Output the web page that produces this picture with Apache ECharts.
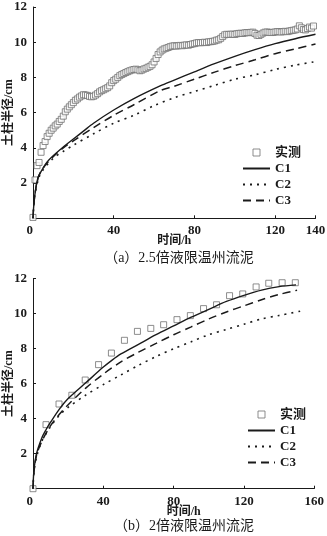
<!DOCTYPE html>
<html><head><meta charset="utf-8">
<script src="https://cdn.jsdelivr.net/npm/echarts@6/dist/echarts.min.js"></script>
<style>html,body{margin:0;padding:0;background:#fff}#c{width:327px;height:536px}</style>
</head><body><div id="c"></div>
<script>
// ---- axis settings ----
const yMax = 12, yStep = 2;
const xMaxA = 140, xMaxB = 160, xStep = 40;
const seriesNames = ['实测', 'C1', 'C2', 'C3'];
const yAxisName = '土柱半径/cm';
const xAxisName = '时间/h';
const captionA = '（a）2.5倍液限温州流泥';
const captionB = '（b）2倍液限温州流泥';

// ---- (a) 2.5x liquid limit ----
const measuredA = [[0,0.05],[1,2.18],[2,2.99],[3,3.17],[4,3.75],[5,4.13],[6,4.36],[7,4.64],[8,4.83],[9,5.0],
[10,5.12],[11,5.25],[12,5.35],[13,5.5],[14,5.62],[15,5.8],[16,6.05],[17,6.2],[18,6.33],[19,6.45],
[20,6.57],[21,6.7],[22,6.78],[23,6.88],[24,6.95],[25,7.02],[26,7.0],[27,6.98],[28,6.92],[29,6.9],
[30,6.93],[31,7.0],[32,7.08],[33,7.18],[34,7.25],[35,7.3],[36,7.36],[37,7.42],[38,7.52],[39,7.7],
[40,7.82],[41,7.9],[42,8.0],[43,8.1],[44,8.17],[45,8.22],[46,8.28],[47,8.33],[48,8.38],[49,8.42],
[50,8.45],[51,8.47],[52,8.43],[53,8.38],[54,8.42],[55,8.48],[56,8.52],[57,8.58],[58,8.63],[59,8.72],
[60,8.88],[61,9.08],[62,9.3],[63,9.45],[64,9.55],[65,9.62],[66,9.66],[67,9.7],[68,9.75],[69,9.78],
[70,9.8],[71,9.78],[72,9.8],[73,9.82],[74,9.8],[75,9.83],[76,9.85],[77,9.83],[78,9.87],[79,9.9],
[80,9.92],[81,9.96],[82,9.98],[83,9.97],[84,9.98],[85,10.0],[86,9.98],[87,10.02],[88,10.03],[89,10.05],
[90,10.07],[91,10.12],[92,10.14],[93,10.22],[94,10.32],[95,10.42],[96,10.45],[97,10.44],[98,10.45],[99,10.46],
[100,10.44],[101,10.48],[102,10.5],[103,10.51],[104,10.5],[105,10.53],[106,10.55],[107,10.54],[108,10.56],[109,10.57],
[110,10.5],[111,10.4],[112,10.38],[113,10.45],[114,10.52],[115,10.57],[116,10.58],[117,10.56],[118,10.55],[119,10.56],
[120,10.58],[121,10.6],[122,10.6],[123,10.58],[124,10.6],[125,10.62],[126,10.6],[127,10.63],[128,10.66],[129,10.68],
[130,10.7],[131,10.75],[132,10.93],[133,10.82],[134,10.72],[135,10.7],[136,10.78],[137,10.86],[138,10.8],[139,10.92]];
const c1A = [[0,0],[0.3,0.6],[1,1.4],[2.5,2.3],[5,2.85],[7,3.2],[10,3.55],[15,4.05],[20,4.5],[25,4.95],[30,5.4],
[40,6.15],[50,6.8],[63,7.52],[70,7.85],[80,8.32],[90,8.78],[100,9.2],[110,9.58],[120,9.92],[130,10.2],[140,10.45]];
const c2A = [[0,0],[0.3,0.6],[1,1.35],[2.5,2.2],[5,2.75],[10,3.4],[15,3.8],[20,4.15],[30,4.8],[40,5.4],
[50,5.85],[60,6.4],[70,6.85],[80,7.2],[90,7.55],[100,7.9],[110,8.15],[120,8.45],[130,8.7],[140,8.9]];
const c3A = [[0,0],[0.3,0.6],[1,1.4],[2.5,2.3],[5,2.85],[10,3.5],[15,4.0],[20,4.4],[30,5.15],[40,5.85],
[50,6.45],[63,7.25],[70,7.5],[80,7.9],[90,8.3],[100,8.67],[110,9.0],[120,9.35],[130,9.62],[140,9.9]];

// ---- (b) 2x liquid limit ----
const measuredB = [[0,0],[7.4,3.66],[14.8,4.84],[22.1,5.34],[29.7,6.21],[37.3,7.09],[44.6,7.75],[52.0,8.48],
[59.4,8.99],[67.0,9.16],[74.3,9.37],[81.9,9.66],[89.5,9.89],[97.0,10.29],[104.4,10.51],[111.8,11.03],
[119.3,11.13],[126.9,11.53],[134.1,11.74],[141.7,11.77],[149.2,11.77]];
const c1B = [[0,0],[0.5,1.0],[2,2.0],[5,2.9],[7.4,3.37],[10,3.8],[15,4.55],[20,5.15],[30,6.05],[40,6.95],
[45,7.35],[50,7.7],[60,8.25],[70,8.8],[80,9.3],[90,9.8],[100,10.25],[110,10.7],[120,11.05],[130,11.35],[140,11.55],[149.6,11.65]];
const c2B = [[0,0],[0.5,0.9],[2,1.8],[5,2.7],[10,3.55],[15,4.2],[20,4.65],[30,5.35],[40,5.95],[50,6.5],
[60,7.05],[70,7.55],[80,8.0],[90,8.4],[100,8.8],[110,9.1],[120,9.4],[130,9.7],[140,9.9],[153.4,10.17]];
const c3B = [[0,0],[0.5,0.9],[2,1.9],[5,2.7],[10,3.6],[15,4.25],[20,4.8],[30,5.75],[40,6.55],[50,7.25],
[60,7.8],[70,8.3],[80,8.8],[90,9.25],[100,9.7],[110,10.1],[120,10.45],[130,10.8],[140,11.1],[150.2,11.34]];

const FONT = "'Liberation Serif','Noto Sans CJK SC',serif";
const INK = '#1a1a1a';
const labelStyle = {color: INK, fontFamily: FONT, fontSize: 13, fontWeight: 'bold'};

function xAxis(gi, max, nameShift) {
  return {
    type: 'value', gridIndex: gi, min: 0, max: max, interval: xStep,
    axisLine: {show: true, lineStyle: {color: INK, width: 1}},
    axisTick: {show: true, inside: true, length: 3, lineStyle: {color: INK}},
    splitLine: {show: false},
    axisLabel: Object.assign({margin: 6, alignMinLabel: 'right'}, labelStyle),
    name: xAxisName, nameLocation: 'middle', nameGap: 17, nameMoveOverlap: false,
    nameTextStyle: {color: INK, fontFamily: FONT, fontSize: 12, fontWeight: 'bold', padding: nameShift}
  };
}
function yAxis(gi) {
  return {
    type: 'value', gridIndex: gi, min: 0, max: yMax, interval: yStep,
    axisLine: {show: true, lineStyle: {color: INK, width: 1}},
    axisTick: {show: true, inside: true, length: 3, lineStyle: {color: INK}},
    splitLine: {show: false},
    axisLabel: Object.assign({margin: 6, showMinLabel: false}, labelStyle),
    name: yAxisName, nameLocation: 'middle', nameGap: 18, nameRotate: 90, nameMoveOverlap: false,
    nameTextStyle: {color: INK, fontFamily: FONT, fontSize: 12, fontWeight: 'bold'}
  };
}
function seriesFor(gi, meas, c1, c2, c3) {
  const line = (name, data, type, w) => ({
    name, type: 'line', xAxisIndex: gi, yAxisIndex: gi, data, showSymbol: false, symbol: 'none',
    smooth: 0.3, lineStyle: {color: INK, width: w, type: type}, itemStyle: {color: INK}, z: 3
  });
  return [
    {name: seriesNames[0], type: 'scatter', xAxisIndex: gi, yAxisIndex: gi, data: meas,
     symbol: 'rect', symbolSize: 6,
     itemStyle: {color: '#fff', borderColor: '#707070', borderWidth: 1}, z: 2},
    line(seriesNames[1], c1, 'solid', 1.4),
    line(seriesNames[2], c2, [2, 5], 1.6),
    line(seriesNames[3], c3, [8, 5], 1.5)
  ];
}
const hidden = {color: 'rgba(0,0,0,0)', borderWidth: 0, opacity: 0};
function legend(left, top) {
  return {
    orient: 'vertical', left, top, padding: 0, itemWidth: 27, itemHeight: 7, itemGap: 3,
    selectedMode: false, symbolKeepAspect: true,
    data: [
      {name: seriesNames[0], icon: 'path://M0,0H10V10H0Z',
       itemStyle: {color: '#fff', borderColor: '#707070', borderWidth: 1}},
      {name: seriesNames[1], itemStyle: hidden},
      {name: seriesNames[2], itemStyle: hidden},
      {name: seriesNames[3], itemStyle: hidden}
    ],
    textStyle: {color: INK, fontFamily: FONT, fontSize: 13, lineHeight: 13, fontWeight: 'bold'}
  };
}

const chart = echarts.init(document.getElementById('c'), null, {renderer: 'canvas'});
chart.setOption({
  animation: false,
  backgroundColor: '#fff',
  grid: [
    {left: 33, top: 7, width: 282.5, height: 211.3, outerBoundsMode: 'none', containLabel: false},
    {left: 33, top: 278.7, width: 281.3, height: 210, outerBoundsMode: 'none', containLabel: false}
  ],
  xAxis: [xAxis(0, xMaxA, [0, 0, 0, 0]), xAxis(1, xMaxB, [0, 0, 0, 20])],
  yAxis: [yAxis(0), yAxis(1)],
  legend: [legend(242, 146), legend(247, 408)],
  graphic: [
    {type: 'text', x: 179, y: 251, style: {text: captionA, textAlign: 'center', fill: INK, font: "14px " + FONT}},
    {type: 'text', x: 184, y: 519, style: {text: captionB, textAlign: 'center', fill: INK, font: "14px " + FONT}}
  ],
  series: [].concat(seriesFor(0, measuredA, c1A, c2A, c3A), seriesFor(1, measuredB, c1B, c2B, c3B))
});
</script></body></html>
